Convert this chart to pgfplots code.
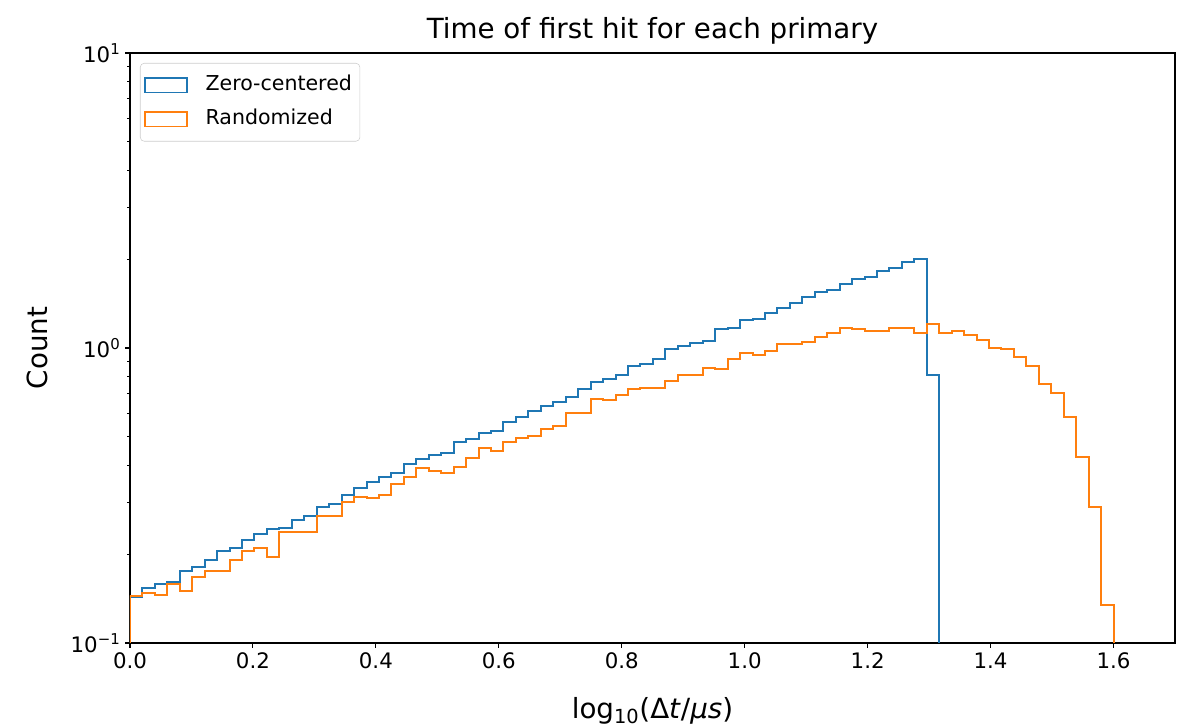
\documentclass[border=0pt]{standalone}
\usepackage{fontspec}
\setmainfont{DejaVu Sans}
\usepackage{pgfplots}
\usepackage{pgfplotstable}
\pgfplotsset{compat=1.18}
\definecolor{zeroc}{HTML}{1F77B4}
\definecolor{randc}{HTML}{FF7F0E}

% left bin edges, count of the bin (first and last rows close the outline)
\pgfplotstableread{
x y
0 0.01
0 0.143
0.0203 0.154
0.0405 0.158
0.0608 0.161
0.0810 0.176
0.1013 0.181
0.1215 0.191
0.1418 0.205
0.1620 0.210
0.1823 0.223
0.2025 0.234
0.2228 0.243
0.2430 0.246
0.2633 0.261
0.2835 0.270
0.3038 0.288
0.3241 0.296
0.3443 0.318
0.3646 0.336
0.3848 0.351
0.4051 0.366
0.4253 0.376
0.4456 0.404
0.4658 0.421
0.4861 0.434
0.5063 0.440
0.5266 0.479
0.5468 0.491
0.5671 0.516
0.5873 0.523
0.6076 0.560
0.6278 0.585
0.6481 0.612
0.6684 0.636
0.6886 0.656
0.7089 0.684
0.7291 0.724
0.7494 0.767
0.7696 0.787
0.7899 0.810
0.8101 0.869
0.8304 0.885
0.8506 0.920
0.8709 0.990
0.8911 1.016
0.9114 1.042
0.9316 1.059
0.9519 1.157
0.9722 1.172
0.9924 1.241
1.0127 1.257
1.0329 1.311
1.0532 1.363
1.0734 1.425
1.0937 1.485
1.1139 1.552
1.1342 1.573
1.1544 1.645
1.1747 1.715
1.1949 1.741
1.2152 1.820
1.2354 1.872
1.2557 1.951
1.2759 2.008
1.2962 0.810
1.3165 0.01
}\zerotab

\pgfplotstableread{
x y
0 0.01
0 0.144
0.0203 0.148
0.0405 0.146
0.0608 0.159
0.0810 0.150
0.1013 0.168
0.1215 0.176
0.1418 0.176
0.1620 0.191
0.1823 0.205
0.2025 0.210
0.2228 0.196
0.2430 0.238
0.2633 0.237
0.2835 0.237
0.3038 0.270
0.3241 0.270
0.3443 0.300
0.3646 0.313
0.3848 0.310
0.4051 0.318
0.4253 0.346
0.4456 0.366
0.4658 0.393
0.4861 0.384
0.5063 0.378
0.5266 0.394
0.5468 0.423
0.5671 0.457
0.5873 0.448
0.6076 0.480
0.6278 0.495
0.6481 0.503
0.6684 0.533
0.6886 0.545
0.7089 0.600
0.7291 0.600
0.7494 0.673
0.7696 0.667
0.7899 0.691
0.8101 0.724
0.8304 0.734
0.8506 0.734
0.8709 0.775
0.8911 0.808
0.9114 0.808
0.9316 0.858
0.9519 0.847
0.9722 0.920
0.9924 0.959
1.0127 0.947
1.0329 0.979
1.0532 1.029
1.0734 1.029
1.0937 1.051
1.1139 1.092
1.1342 1.127
1.1544 1.172
1.1747 1.157
1.1949 1.145
1.2152 1.145
1.2354 1.172
1.2557 1.172
1.2759 1.121
1.2962 1.206
1.3165 1.121
1.3367 1.142
1.3570 1.107
1.3772 1.064
1.3975 1.002
1.4177 0.992
1.4380 0.934
1.4582 0.869
1.4785 0.755
1.4987 0.702
1.5190 0.585
1.5392 0.428
1.5595 0.288
1.5797 0.134
1.6000 0.01
}\randtab

\begin{document}
\begin{tikzpicture}
  \begin{axis}[
    at={(0pt,0pt)}, anchor=south west,
    scale only axis, width=783.75pt, height=442.5pt,
    xmin=0, xmax=1.7,
    ymode=log, ymin=0.1, ymax=10,
    xtick={0,0.2,0.4,0.6,0.8,1.0,1.2,1.4,1.6},
    xticklabels={0.0,0.2,0.4,0.6,0.8,1.0,1.2,1.4,1.6},
    ytick={0.1,1,10},
    yticklabels={10\textsuperscript{−1},10\textsuperscript{0},10\textsuperscript{1}},
    minor ytick={0.2,0.3,0.4,0.5,0.6,0.7,0.8,0.9,2,3,4,5,6,7,8,9},
    tick align=outside, tick pos=left,
    major tick length=3.6pt, minor tick length=2.1pt,
    major tick style={black,line width=0.8pt},
    minor tick style={black,line width=0.6pt},
    axis line style={black,line width=0.8pt},
    tick label style={font=\fontsize{16}{19}\selectfont},
    title={Time of first hit for each primary},
    title style={font=\fontsize{20.8}{25}\selectfont, at={(axis description cs:0.5,1)},
      anchor=south, inner sep=0pt, yshift=0pt},
    xlabel={log\textsubscript{10}(Δ\textit{t}/\textit{μs})},
    xlabel style={font=\fontsize{20.8}{25}\selectfont, at={(axis description cs:0.5,0)},
      anchor=base, inner sep=0pt, yshift=-57pt},
    ylabel={Count},
    ylabel style={font=\fontsize{20.8}{25}\selectfont, at={(axis description cs:-0.0785,0.5)},
      anchor=base, inner sep=0pt},
    legend style={at={(axis description cs:0,1)}, anchor=north west,
      xshift=7.5pt, yshift=-7.5pt, draw=black!20, fill=white,
      rounded corners=3pt, font=\fontsize{15.4}{18}\selectfont,
      inner xsep=3pt, inner ysep=6.5pt, row sep=5.5pt, column sep=10.5pt,
      nodes={inner sep=3pt, text height=11pt, text depth=3pt}},
    legend cell align=left,
    legend image code/.code={\draw[#1, sharp corners, line width=1pt] (0pt,-5.5pt) rectangle (31.5pt,5.5pt);},
  ]
    \addplot[const plot mark left, zeroc, line width=1.5pt, mark=none] table {\zerotab};
    \addlegendentry{Zero-centered}
    \addplot[const plot mark left, randc, line width=1.5pt, mark=none] table {\randtab};
    \addlegendentry{Randomized}
  \end{axis}
  \pgfresetboundingbox
  \path[use as bounding box] (-97.5pt,-63pt) rectangle (795pt,482.25pt);
\end{tikzpicture}
\end{document}
